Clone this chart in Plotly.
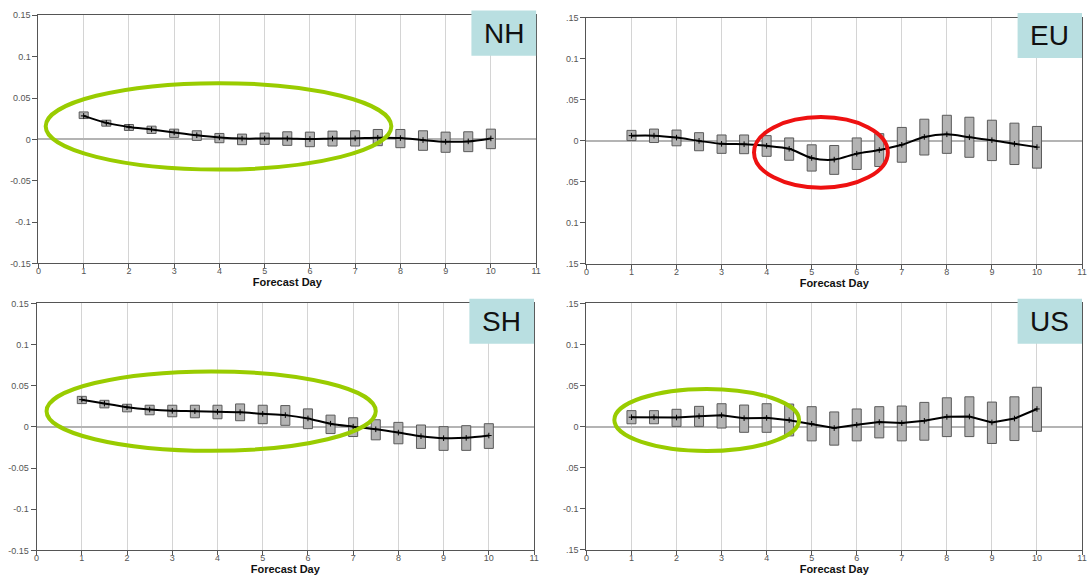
import plotly.graph_objects as go

days = [1, 1.5, 2, 2.5, 3, 3.5, 4, 4.5, 5, 5.5, 6, 6.5, 7, 7.5, 8, 8.5, 9, 9.5, 10]

nh_hi = [0.0332, 0.0232, 0.018, 0.016, 0.0124, 0.0104, 0.0072, 0.0064, 0.0076, 0.0092, 0.0088, 0.010, 0.0104, 0.012, 0.012, 0.0104, 0.0088, 0.0092, 0.0124]
nh_lo = [0.0252, 0.016, 0.0108, 0.0072, 0.0024, -0.0012, -0.004, -0.0064, -0.006, -0.0072, -0.0088, -0.008, -0.008, -0.0076, -0.010, -0.0132, -0.0156, -0.0148, -0.0112]
nh_mid = [0.0284, 0.020, 0.015, 0.012, 0.0084, 0.005, 0.0024, 0.001, 0.001, 0.001, 0.0004, 0.001, 0.0012, 0.002, 0.0016, -0.0008, -0.0028, -0.0024, 0.0012]

eu_hi = [0.0128, 0.0144, 0.0132, 0.010, 0.0072, 0.0072, 0.0064, 0.0036, -0.0048, -0.0056, 0.0036, 0.0088, 0.0164, 0.0264, 0.0312, 0.0288, 0.0252, 0.0216, 0.0176]
eu_lo = [0.0004, -0.002, -0.006, -0.012, -0.0152, -0.0156, -0.0188, -0.0236, -0.0368, -0.0408, -0.0348, -0.0312, -0.026, -0.0172, -0.0152, -0.020, -0.024, -0.0288, -0.0332]
eu_mid = [0.0064, 0.0064, 0.004, 0.0, -0.0036, -0.004, -0.006, -0.0096, -0.0208, -0.0228, -0.0156, -0.0112, -0.0048, 0.0048, 0.008, 0.0044, 0.0008, -0.0036, -0.0076]

sh_hi = [0.0372, 0.0324, 0.0276, 0.0264, 0.0264, 0.0264, 0.0264, 0.028, 0.0264, 0.026, 0.022, 0.0144, 0.0112, 0.0088, 0.0056, 0.0024, 0.0004, 0.0016, 0.004]
sh_lo = [0.0284, 0.0232, 0.0184, 0.0148, 0.0124, 0.0112, 0.010, 0.0076, 0.004, 0.002, -0.002, -0.008, -0.0116, -0.0156, -0.0204, -0.026, -0.0284, -0.0284, -0.026]
sh_mid = [0.0332, 0.0284, 0.024, 0.0212, 0.0196, 0.0192, 0.0184, 0.018, 0.016, 0.0144, 0.0104, 0.004, 0.0004, -0.0028, -0.0068, -0.0112, -0.0136, -0.0132, -0.0104]

us_hi = [0.0196, 0.0196, 0.0212, 0.0248, 0.028, 0.0264, 0.028, 0.0276, 0.0244, 0.018, 0.0216, 0.0244, 0.0252, 0.0296, 0.0352, 0.0364, 0.030, 0.0364, 0.048]
us_lo = [0.0036, 0.0036, 0.0004, 0.0004, -0.0016, -0.0068, -0.0068, -0.0112, -0.0172, -0.0224, -0.0172, -0.0136, -0.0172, -0.0164, -0.012, -0.012, -0.0204, -0.0168, -0.0056]
us_mid = [0.0116, 0.0116, 0.0112, 0.0128, 0.014, 0.0104, 0.0108, 0.008, 0.0036, -0.0016, 0.0024, 0.0056, 0.0044, 0.0072, 0.012, 0.0124, 0.0052, 0.010, 0.0216]

x_ticks = [0, 1, 2, 3, 4, 5, 6, 7, 8, 9, 10, 11]
y_ticks = [-0.15, -0.1, -0.05, 0, 0.05, 0.1, 0.15]
y_text_left = ["-0.15", "-0.1", "-0.05", "0", "0.05", "0.1", "0.15"]
y_text_eu = [".15", "0.1", ".05", "0", ".05", "0.1", ".15"]
y_text_us = [".15", "-0.1", ".05", "0", ".05", "0.1", ".15"]

panels = [
    # name, hi, lo, mid, shape, xdomain, ydomain, yticktext, ellipse (x0,x1,y0,y1), ellipse color
    ("NH", nh_hi, nh_lo, nh_mid, "spline", [0.0327, 0.4918], [0.5489, 0.9820], y_text_left, (0.16, 7.8, -0.0365, 0.068), "#99cc00"),
    ("EU", eu_hi, eu_lo, eu_mid, "spline", [0.5382, 0.9954], [0.5480, 0.9777], y_text_eu, (3.72, 6.69, -0.057, 0.029), "#ee1111"),
    ("SH", sh_hi, sh_lo, sh_mid, "spline", [0.0310, 0.4899], [0.0480, 0.4791], y_text_left, (0.22, 7.5, -0.029, 0.0675), "#99cc00"),
    ("US", us_hi, us_lo, us_mid, "linear", [0.5382, 0.9954], [0.0489, 0.4791], y_text_us, (0.62, 4.72, -0.0295, 0.046), "#99cc00"),
]

fig = go.Figure()
shapes = []
annotations = []
layout_axes = {}

for i, (name, hi, lo, mid, lshape, xd, yd, ytext, ell, ecol) in enumerate(panels):
    n = "" if i == 0 else str(i + 1)
    xa, ya = "x" + n, "y" + n
    fig.add_trace(go.Bar(
        x=days, y=[h - l for h, l in zip(hi, lo)], base=lo, width=0.2,
        marker=dict(color="#b3b3b3", line=dict(color="#5a5a5a", width=1)),
        xaxis=xa, yaxis=ya, showlegend=False, hoverinfo="skip"))
    fig.add_trace(go.Scatter(
        x=days, y=mid, mode="lines+markers",
        line=dict(color="black", width=2, shape=lshape, smoothing=0.8),
        marker=dict(symbol="cross-thin", size=4, line=dict(color="black", width=1)),
        xaxis=xa, yaxis=ya, showlegend=False))
    layout_axes["xaxis" + n] = dict(
        domain=xd, anchor=ya, range=[0, 11], tickvals=x_ticks,
        showgrid=True, gridcolor="#d4d4d4", gridwidth=1, zeroline=False,
        showline=True, linecolor="#555555", linewidth=1, mirror=True,
        ticks="outside", ticklen=4, tickcolor="#555555", ticklabelstandoff=-5,
        tickfont=dict(family="Liberation Sans, Arial", size=9, color="#555555"),
        title=dict(text="<b>Forecast Day</b>", standoff=0,
                   font=dict(family="Liberation Sans, Arial", size=11, color="#111111")))
    layout_axes["yaxis" + n] = dict(
        domain=yd, anchor=xa, range=[-0.15, 0.15], tickvals=y_ticks, ticktext=ytext,
        showgrid=False, zeroline=True, zerolinecolor="#b4b4b4", zerolinewidth=2,
        showline=True, linecolor="#555555", linewidth=1, mirror=True,
        ticks="outside", ticklen=5, tickcolor="#555555",
        tickfont=dict(family="Liberation Sans, Arial", size=9, color="#555555"))
    x0, x1, y0, y1 = ell
    shapes.append(dict(type="circle", xref=xa, yref=ya, x0=x0, x1=x1, y0=y0, y1=y1,
                       line=dict(color=ecol, width=4), layer="above"))
    shapes.append(dict(type="rect", xref=xa + " domain", yref=ya + " domain",
                       x0=0.870, x1=1.0, y0=0.837, y1=1.019,
                       fillcolor="#b9dfe1", line=dict(width=0), layer="above"))
    annotations.append(dict(text=name, xref=xa + " domain", yref=ya + " domain",
                            x=0.935, y=0.928, xanchor="center", yanchor="middle",
                            showarrow=False,
                            font=dict(family="Liberation Sans, Arial", size=28, color="#111111")))

fig.update_layout(
    width=1092, height=583, margin=dict(l=0, r=0, t=0, b=0),
    paper_bgcolor="white", plot_bgcolor="white",
    shapes=shapes, annotations=annotations, barmode="overlay",
    **layout_axes)

fig.write_html("out.html")
